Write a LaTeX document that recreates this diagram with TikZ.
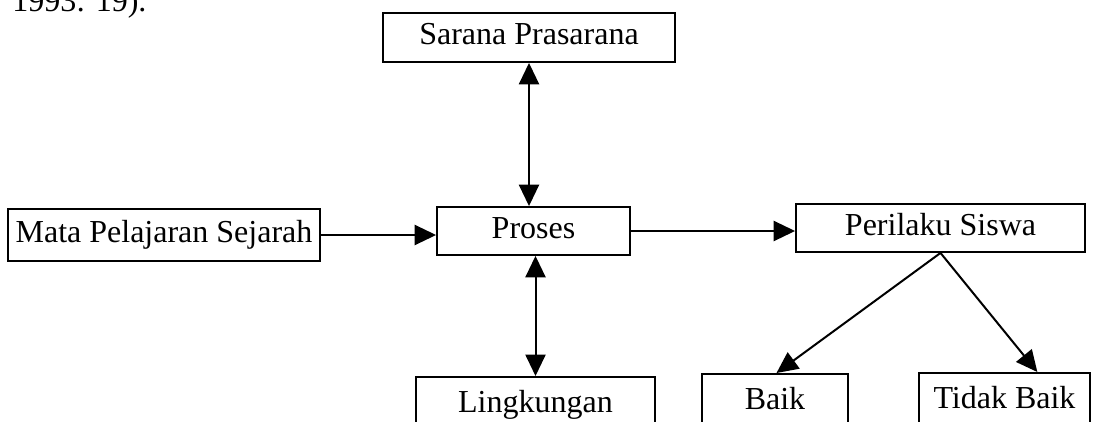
\documentclass[tikz,border=0pt]{standalone}
\usepackage{fontspec}
\setmainfont{Liberation Serif}
\usetikzlibrary{arrows.meta,calc}
\tikzset{
  boxnode/.style={draw, line width=1.4pt, inner sep=0pt, text height=16.8pt, text depth=6pt,
    font=\fontsize{24}{28}\selectfont},
  lowbox/.style={draw, line width=1.4pt, inner xsep=0pt, inner ysep=10pt, anchor=north,
    text height=16.8pt, text depth=40pt, font=\fontsize{24}{28}\selectfont},
  conn/.style={line width=1.5pt, -{Triangle[length=16pt,width=15pt]}},
  dconn/.style={line width=1.5pt, {Triangle[length=16pt,width=15pt]}-{Triangle[length=16pt,width=15pt]}},
  reftext/.style={font=\fontsize{24}{28}\selectfont, inner sep=0pt, anchor=base west}
}
\begin{document}
\begin{tikzpicture}[x=0.75pt, y=-0.75pt]
\useasboundingbox (0,0) rectangle (1105,421);
\clip (0,0) rectangle (1105,421);
\node[reftext] (ref) at (12,12) {1993: 19).};
\node[boxnode, minimum width=219pt, minimum height=36.75pt] (sarana) at (529,37.5) {Sarana Prasarana};
\node[boxnode, minimum width=234pt, minimum height=39pt] (mata) at (164,235) {Mata Pelajaran Sejarah};
\node[boxnode, minimum width=144.75pt, minimum height=36pt] (proses) at (533.5,231) {Proses};
\node[boxnode, minimum width=216.75pt, minimum height=36pt] (perilaku) at (940.5,228) {Perilaku Siswa};
\node[lowbox, minimum width=179.25pt] (lingk) at (535.5,376) {Lingkungan};
\node[lowbox, minimum width=109.5pt] (baik) at (775,373) {Baik};
\node[lowbox, minimum width=128.25pt] (tidak) at (1004.5,372) {Tidak Baik};
\draw[dconn] (sarana.south) -- (sarana.south |- proses.north);
\draw[dconn] (proses.south -| lingk.north) -- (lingk.north);
\draw[conn] (mata.east) -- (mata.east -| proses.west);
\draw[conn] (proses.east) -- (proses.east -| perilaku.west);
\draw[conn] (perilaku.south) -- ($(baik.north west)!0.51!(baik.north east)$);
\draw[conn] (perilaku.south) -- ($(tidak.north west)!0.69!(tidak.north east)$);
\end{tikzpicture}
\end{document}
